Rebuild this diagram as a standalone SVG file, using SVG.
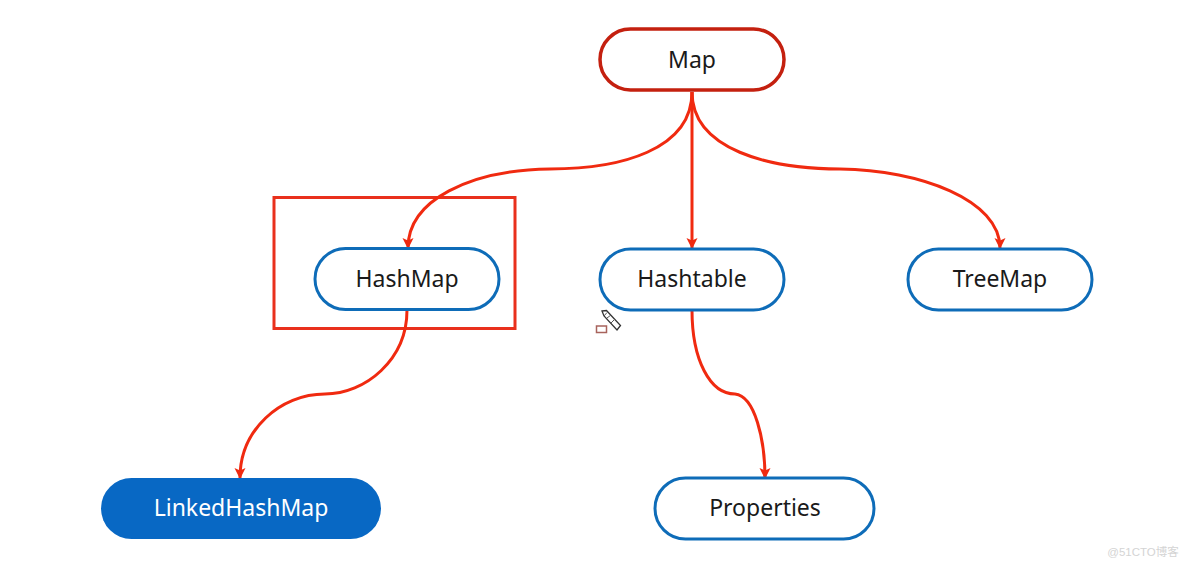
<svg xmlns="http://www.w3.org/2000/svg" width="1184" height="564" viewBox="0 0 1184 564">
<style>
.label{font-family:"Noto Sans","DejaVu Sans",sans-serif;font-size:23px;text-anchor:middle;fill:#1a1a1a}
.pill{fill:#fff;stroke:#0e6cb8;stroke-width:3}
.edge{fill:none;stroke:#f02a10;stroke-width:3}
</style>
<defs>
<marker id="head" markerUnits="userSpaceOnUse" markerWidth="12" markerHeight="12" refX="10" refY="5.500" orient="auto"><path d="M0 0L11 5.500L0 11L2.500 5.500Z" fill="#f02a10"/></marker>
</defs>
<rect width="1184" height="564" fill="#fff"/>
<rect x="274" y="197.500" width="241" height="131" fill="none" stroke="#e9301c" stroke-width="3"/>
<g id="connectors">
<path class="edge" marker-end="url(#head)" d="M692 92C692 150 620 169 550 169C470 170 408 200 408 248"/>
<path class="edge" marker-end="url(#head)" d="M692 92V248"/>
<path class="edge" marker-end="url(#head)" d="M692 92C692 150 770 169 840 169C920 170 1000 200 1000 248"/>
<path class="edge" marker-end="url(#head)" d="M407 310C407 360 365 394 325 394C280 394 240 430 240 478"/>
<path class="edge" marker-end="url(#head)" d="M692 310C692 360 710 394 735 394C755 396 765 440 765 478"/>
</g>
<g id="map"><rect x="600" y="29" width="184" height="61" rx="30.500" fill="#fff" stroke="#c4200f" stroke-width="3.500"/><text class="label" x="692" y="68">Map</text></g>
<g id="hashmap"><rect class="pill" x="315" y="248.500" width="184" height="61" rx="30.500" stroke-width="2.500"/><text class="label" x="407" y="287">HashMap</text></g>
<g id="hashtable"><rect class="pill" x="600" y="249" width="184" height="61" rx="30.500"/><text class="label" x="692" y="287">Hashtable</text></g>
<g id="treemap"><rect class="pill" x="908" y="249" width="184" height="61" rx="30.500"/><text class="label" x="1000" y="287">TreeMap</text></g>
<g id="linkedhashmap"><rect x="101" y="478" width="280" height="61" rx="30.500" fill="#0868c4"/><text class="label" x="241" y="516" style="fill:#fff">LinkedHashMap</text></g>
<g id="properties"><rect class="pill" x="655" y="478" width="219" height="61" rx="30.500"/><text class="label" x="765" y="516">Properties</text></g>
<!-- pen cursor -->
<g id="cursor">
<rect x="596.500" y="326" width="10" height="6.500" fill="#fff" stroke="#a8635c" stroke-width="1.500"/>
<path d="M602 311L606.500 310.500L620.500 325.500L617 330L604 316Z" fill="#fff" stroke="#333" stroke-width="1.300"/>
<path d="M604 316L607 312.500M607 318L611 315M611 323L615 319" stroke="#555" stroke-width="1"/>
</g>
<text x="1143" y="556" style="font-family:'Liberation Sans','Noto Sans CJK SC',sans-serif;font-size:11.500px;text-anchor:middle;fill:#d4d4d4">@51CTO博客</text>
</svg>
